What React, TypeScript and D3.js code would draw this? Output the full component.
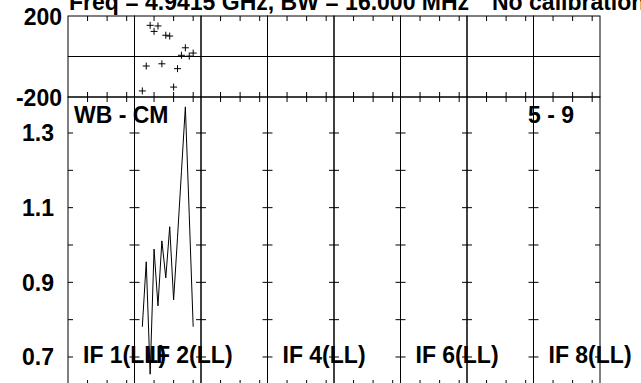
import React from "react";
import * as d3 from "d3";

const titleText = "Freq = 4.9415 GHz, BW = 16.000 MHz";
const titleRight = "No calibration";
const sourceLabel = "WB - CM";
const baselineLabel = "5 - 9";
const ifColumns = [0, 1, 2, 3, 4, 5, 6, 7];
const ifLabels = ["IF 1(LL)", "IF 2(LL)", "", "IF 4(LL)", "", "IF 6(LL)", "", "IF 8(LL)"];
const dataColumn = 1;
const channels = [2, 3, 4, 5, 6, 7, 8, 9, 10, 11, 12, 13, 14, 15];
const ampValues = [0.781, 0.955, 0.654, 0.989, 0.837, 1.011, 0.912, 1.049, 0.853, 1.021, 1.196, 1.37, 1.08, 0.781];
const phaseValues = [-170, -47, 154, 124, 151, -36, 105, 101, -151, -60, 6, 43, 2, 17];
const phaseTickLabels = [200, -200];
const ampTickValues = [0.7, 0.8, 0.9, 1.0, 1.1, 1.2, 1.3];
const ampTickLabels = [0.7, 0.9, 1.1, 1.3];
const chanTicks = [5, 10, 15];

const W = 641;
const H = 383;
const left = 68;
const right = 600;
const phTop = 16;
const phBot = 97;
const ampTop = 97;
const ampBot = 385;
const FONT = "'Liberation Sans', Arial, Helvetica, sans-serif";

export default function App() {
  const colScale = d3.scaleLinear().domain([0, 8]).range([left, right]);
  const colW = (right - left) / 8;
  const phY = d3.scaleLinear().domain([-200, 200]).range([phBot, phTop]);
  const ampY = d3.scaleLinear().domain([0.625, 1.3964]).range([ampBot, ampTop]);
  const chX = (col: number) =>
    d3.scaleLinear().domain([0, 17]).range([colScale(col), colScale(col) + colW]);

  const dx = chX(dataColumn);
  const ampLine = d3
    .line<number>()
    .x((_, i) => dx(channels[i]))
    .y((d) => ampY(d));

  const tickLen = 5;
  const fmt = d3.format(".1f");

  return (
    <svg
      width={W}
      height={H}
      style={{ position: "fixed", left: 0, top: 0, background: "#fff" }}
      fontFamily={FONT}
      fontWeight="bold"
    >
      <rect x={0} y={0} width={W} height={H} fill="#fff" />
      {/* Title */}
      <text x={69} y={10} fontSize={23} fill="#000">{titleText}</text>
      <text x={492} y={10} fontSize={23} fill="#000">{titleRight}</text>

      {/* Column boxes */}
      {ifColumns.map((c) => {
        const x0 = colScale(c);
        const x1 = colScale(c + 1);
        const sx = chX(c);
        return (
          <g key={c} stroke="#000" strokeWidth={1} fill="none">
            {/* phase panel */}
            <rect x={x0} y={phTop} width={x1 - x0} height={phBot - phTop} />
            <line x1={x0} x2={x1} y1={phY(0)} y2={phY(0)} />
            {chanTicks.map((t) => (
              <g key={"p" + t}>
                <line x1={sx(t)} x2={sx(t)} y1={phTop} y2={phTop + tickLen} />
                <line x1={sx(t)} x2={sx(t)} y1={phBot} y2={phBot - tickLen} />
              </g>
            ))}
            {/* amplitude panel */}
            <rect x={x0} y={ampTop} width={x1 - x0} height={ampBot - ampTop} />
            {chanTicks.map((t) => (
              <g key={"a" + t}>
                <line x1={sx(t)} x2={sx(t)} y1={ampTop} y2={ampTop + tickLen} />
                <line x1={sx(t)} x2={sx(t)} y1={ampBot} y2={ampBot - tickLen} />
              </g>
            ))}
            {ampTickValues.map((v) => (
              <g key={"y" + v}>
                <line x1={x0} x2={x0 + tickLen} y1={ampY(v)} y2={ampY(v)} />
                <line x1={x1} x2={x1 - tickLen} y1={ampY(v)} y2={ampY(v)} />
              </g>
            ))}
          </g>
        );
      })}

      {/* Phase tick labels */}
      {phaseTickLabels.map((v) => (
        <text key={v} x={62} y={phY(v) + 8.5} fontSize={23} textAnchor="end" fill="#000">
          {v}
        </text>
      ))}
      {/* Amp tick labels */}
      {ampTickLabels.map((v) => (
        <text key={v} x={54} y={ampY(v) + 8.5} fontSize={23} textAnchor="end" fill="#000">
          {fmt(v)}
        </text>
      ))}

      {/* Phase points */}
      <g stroke="#000" strokeWidth={1}>
        {phaseValues.map((p, i) => {
          const x = dx(channels[i]);
          const y = phY(p);
          return (
            <g key={i}>
              <line x1={x - 3.5} x2={x + 3.5} y1={y} y2={y} />
              <line x1={x} x2={x} y1={y - 3.5} y2={y + 3.5} />
            </g>
          );
        })}
      </g>

      {/* Amplitude line */}
      <path d={ampLine(ampValues) || ""} fill="none" stroke="#000" strokeWidth={1} />

      {/* Labels */}
      <text x={74} y={123.3} fontSize={23} fill="#000">{sourceLabel}</text>
      <text x={528} y={123.3} fontSize={23} fill="#000">{baselineLabel}</text>
      {ifColumns.map((c) =>
        ifLabels[c] ? (
          <text key={c} x={colScale(c) + 15} y={363} fontSize={23} fill="#000">
            {ifLabels[c]}
          </text>
        ) : null
      )}
    </svg>
  );
}
